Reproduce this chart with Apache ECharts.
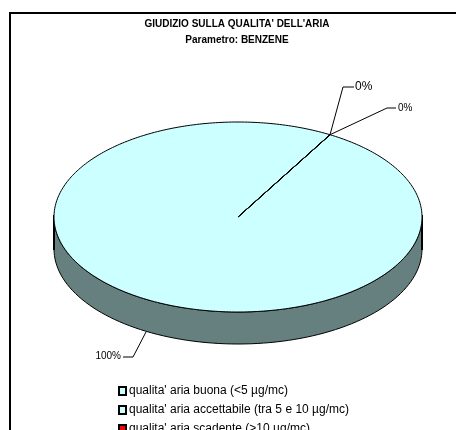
<!DOCTYPE html>
<html><head><meta charset="utf-8">
<style>html,body{margin:0;padding:0;background:#fff;overflow:hidden}
#c{width:456px;height:430px}
#f{position:absolute;left:9px;top:12px;width:470px;height:440px;border:2px solid #000;box-sizing:border-box}</style>
<script src="https://cdn.jsdelivr.net/npm/echarts@6/dist/echarts.min.js"></script>
</head><body><div id="c"></div>
<script>
const categories = ["qualita' aria buona (<5 µg/mc)", "qualita' aria accettabile (tra 5 e 10 µg/mc)", "qualita' aria scadente (>10 µg/mc)"];
const values = [100, 0, 0];
const labels = ["100%", "0%", "0%"];
const topColors = ['#CCFFFF', '#CCFFFF', '#FF0000'];
const sideColor = '#668080';
const START_DEG = 60, DEPTH = 32;
const LEADERS = [
  {mid:[133,357], end:[123,357], tx:121, ty:356, align:'right', size:10},
  {mid:[343,87], end:[354,87], tx:355, ty:87, align:'left', size:12},
  {mid:[387,108], end:[396,108], tx:398, ty:108, align:'left', size:10}
];
const total = values.reduce((a,b)=>a+b,0);
function ang(i){let s=0;for(let k=0;k<i;k++)s+=values[k];return START_DEG-360*s/total;}
function renderSlice(i){return function(params,api){
  const c=api.coord([0,0]), rx=api.size([1,0])[0], ry=api.size([0,1])[1];
  const a0=ang(i), v=values[i], a1=a0-360*v/total;
  const pt=(d,dy)=>{const r=d*Math.PI/180;return [c[0]+rx*Math.cos(r),c[1]-ry*Math.sin(r)+(dy||0)];};
  const kids=[];
  if(v>0){
    const wall=[];
    for(let d=180;d<=360;d+=2)wall.push(pt(d,0));
    for(let d=360;d>=180;d-=2)wall.push(pt(d,DEPTH));
    kids.push({type:'polygon',shape:{points:wall},style:{fill:sideColor,stroke:'#000',lineWidth:1}});
    [180,360].forEach(d=>kids.push({type:'polyline',shape:{points:[pt(d,-2),pt(d,DEPTH+1)]},style:{fill:'none',stroke:'#000',lineWidth:2}}));
  }
  const pts=[[c[0],c[1]]];
  const n=Math.max(1,Math.round(Math.abs(a0-a1)));
  for(let k=0;k<=n;k++)pts.push(pt(a0+(a1-a0)*k/n));
  kids.push({type:'polygon',shape:{points:pts},style:{fill:topColors[i],stroke:'#000',lineWidth:1}});
  const L=LEADERS[i];
  const sp = v>0 ? [146,332] : pt(a0);
  kids.push({type:'polyline',shape:{points:[sp,L.mid,L.end]},style:{fill:'none',stroke:'#000',lineWidth:1},z2:5});
  kids.push({type:'text',x:L.tx,y:L.ty,style:{text:labels[i],fontFamily:'Liberation Sans',fontSize:L.size,fill:'#000',align:L.align,verticalAlign:'middle'},z2:5});
  return {type:'group',children:kids};
};}
const chart=echarts.init(document.getElementById('c'),null,{renderer:'canvas'});
chart.setOption({
  animation:false,
  backgroundColor:'#fff',
  title:{text:"GIUDIZIO SULLA QUALITA' DELL'ARIA\nParametro: BENZENE",left:232,textAlign:'center',top:11,
    textStyle:{fontFamily:'Liberation Sans',fontSize:10,fontWeight:'bold',color:'#000',lineHeight:16}},
  grid:{left:54,top:122,width:368,height:190,show:false},
  xAxis:{type:'value',min:-1,max:1,show:false},
  yAxis:{type:'value',min:-1,max:1,show:false},
  legend:{orient:'vertical',left:113,top:380,height:100,itemWidth:7,itemHeight:8,itemGap:7,icon:'rect',
    textStyle:{fontFamily:'Liberation Sans',fontSize:12,color:'#000',padding:[0,0,0,-2]},
    data:categories.map((n,i)=>({name:n,itemStyle:{color:topColors[i],borderColor:'#000',borderWidth:2}}))},
  series:categories.map((n,i)=>({name:n,type:'custom',clip:false,silent:true,renderItem:renderSlice(i),
    itemStyle:{color:topColors[i]},data:[[0,0,values[i]]],encode:{x:0,y:1}}))
});
</script>
<div id="f"></div>
</body></html>
